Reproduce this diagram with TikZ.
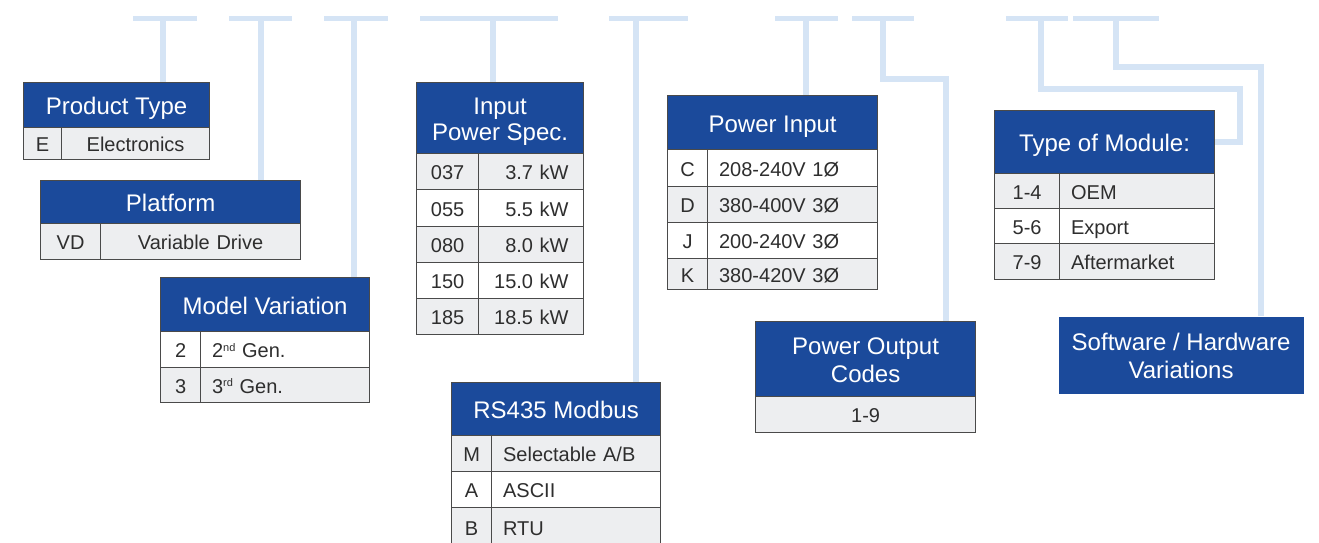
\documentclass[tikz,border=0pt]{standalone}
\usepackage{fontspec}
\setmainfont{Liberation Sans}
\definecolor{hdrblue}{HTML}{1B4A9B}
\definecolor{connblue}{HTML}{D5E4F5}
\definecolor{rowgray}{HTML}{EDEEF0}
\definecolor{bordergray}{HTML}{4A4A4A}
\definecolor{txtgray}{HTML}{2E2E2E}
\pgfdeclarelayer{front}\pgfsetlayers{main,front}
\newcommand{\thdr}[7]{%
  \pgfmathsetmacro\hdrW{#4-#2}\pgfmathsetmacro\hdrH{#5-#3}%
  \node[hdr, text height=#7, minimum width=\hdrW pt, minimum height=\hdrH pt] (#1) at (#2,#3) {#6};}
\newcommand{\trow}[9]{%
  \pgfmathsetmacro\rowWa{#3-#2}%
  \pgfmathsetmacro\rowWb{#4-#3-2*\cellpad}%
  \pgfmathsetmacro\rowH{#6-#5}%
  \node[cellA, fill=#7, minimum width=\rowWa pt, minimum height=\rowH pt] (#1a) at (#2,#5) {#8};
  \node[cellB, fill=#7, text width=\rowWb pt, inner xsep=\cellpad pt, minimum height=\rowH pt] (#1b) at (#3,#5) {#9};}
\newcommand{\supx}[1]{\raisebox{6.5pt}{\fontsize{11}{11}\selectfont #1}}
\begin{document}
\begin{tikzpicture}[x=1pt,y=-1pt,
  bar/.style={fill=connblue, draw=none, minimum height=5.5pt, inner sep=0pt},
  conn/.style={draw=connblue, line width=6pt, line join=miter},
  hdr/.style={fill=hdrblue, draw=bordergray, line width=1.2pt, text=white,
    font=\fontsize{24}{28}\selectfont, align=center, inner sep=0pt, anchor=north west,
    text height=19.2pt, text depth=0pt},
  cellA/.style={draw=bordergray, line width=1.2pt, inner sep=0pt, text=txtgray,
    font=\fontsize{20}{24}\selectfont, text height=16pt, text depth=0pt, anchor=north west},
  cellB/.style={cellA, align=center}]
\useasboundingbox (0,0) rectangle (1319,542);
\fill[white] (0,0) rectangle (1319,542);
% top bars
\node[bar, minimum width=64pt] (b1) at (165,18.5) {};
\node[bar, minimum width=63pt] (b2) at (260.5,18.5) {};
\node[bar, minimum width=64pt] (b3) at (356,18.5) {};
\node[bar, minimum width=138pt] (b4) at (489,18.5) {};
\node[bar, minimum width=79pt] (b5) at (648.5,18.5) {};
\node[bar, minimum width=63pt] (b6) at (806,18.5) {};
\node[bar, minimum width=62pt] (b7) at (883,18.5) {};
\node[bar, minimum width=62pt] (b8) at (1037,18.5) {};
\node[bar, minimum width=86pt] (b9) at (1116,18.5) {};
\coordinate (s1) at (162.5,18.5);
\coordinate (s2) at (261,18.5);
\coordinate (s3) at (354,18.5);
\coordinate (s4) at (492.5,18.5);
\coordinate (s5) at (636,18.5);
\coordinate (s6) at (806,18.5);
\coordinate (s7) at (883,18.5);
\coordinate (s8) at (1040.5,18.5);
\coordinate (s9) at (1116,18.5);
\coordinate (e7) at (946,79);
\coordinate (e8) at (1240,89);
\coordinate (e9) at (1261,67);
\begin{pgfonlayer}{front}
% Product Type
\thdr{pt}{23}{82}{209}{127}{Product Type}{19.2pt}
\def\cellpad{0}
\trow{pt1}{23}{61}{209}{127}{159}{rowgray}{E}{Electronics}
% Platform
\thdr{pf}{40}{180}{300}{223}{Platform}{19.2pt}
\trow{pf1}{40}{100}{300}{223}{259}{rowgray}{VD}{Variable Drive}
% Model Variation
\tikzset{cellB/.style={cellA, align=left}}
\def\cellpad{11.5}
\thdr{mv}{160}{277}{369}{331}{Model Variation}{19.2pt}
\trow{mv1}{160}{200}{369}{331}{367}{white}{2}{2\supx{nd} Gen.}
\trow{mv2}{160}{200}{369}{367}{402}{rowgray}{3}{3\supx{rd} Gen.}
% RS435 Modbus
\thdr{rs}{451}{382}{660}{435}{RS435 Modbus}{19.2pt}
\trow{rs1}{451}{491}{660}{435}{471}{rowgray}{M}{Selectable A/B}
\trow{rs2}{451}{491}{660}{471}{507}{white}{A}{ASCII}
\trow{rs3}{451}{491}{660}{507}{546}{rowgray}{B}{RTU}
% Power Input
\thdr{pi}{667}{95}{877}{149}{Power Input}{19.2pt}
\trow{pi1}{667}{707}{877}{149}{186}{white}{C}{208-240V 1Ø}
\trow{pi2}{667}{707}{877}{186}{222}{rowgray}{D}{380-400V 3Ø}
\trow{pi3}{667}{707}{877}{222}{258}{white}{J}{200-240V 3Ø}
\trow{pi4}{667}{707}{877}{258}{289}{rowgray}{K}{380-420V 3Ø}
% Type of Module
\thdr{tm}{994}{110}{1214}{173}{Type of Module:}{19.2pt}
\trow{tm1}{994}{1059}{1214}{173}{208}{rowgray}{1-4}{OEM}
\trow{tm2}{994}{1059}{1214}{208}{243}{white}{5-6}{Export}
\trow{tm3}{994}{1059}{1214}{243}{279}{rowgray}{7-9}{Aftermarket}
% Input Power Spec
\tikzset{cellB/.style={cellA, align=right}}
\def\cellpad{15}
\thdr{ip}{416}{82}{583}{153}{Input\\[-2pt]Power Spec.}{45.2pt}
\trow{ip1}{416}{478}{583}{153}{189}{rowgray}{037}{3.7 kW}
\trow{ip2}{416}{478}{583}{189}{226}{white}{055}{5.5 kW}
\trow{ip3}{416}{478}{583}{226}{262}{rowgray}{080}{8.0 kW}
\trow{ip4}{416}{478}{583}{262}{298}{white}{150}{15.0 kW}
\trow{ip5}{416}{478}{583}{298}{334}{rowgray}{185}{18.5 kW}
% Power Output Codes
\thdr{po}{755}{321}{975}{396}{Power Output\\Codes}{47.2pt}
\node[cellA, fill=rowgray, minimum width=220pt, minimum height=36pt] (po1) at (755,396) {1-9};
% Software / Hardware
\node[hdr, draw=none, text height=47.7pt, minimum width=245pt, minimum height=77pt] (sw) at (1058,316) {Software / Hardware\\[0.5pt]Variations};
\end{pgfonlayer}
% connectors
\draw[conn] (s1) -- (s1 |- pt.north);
\draw[conn] (s2) -- (s2 |- pf.north);
\draw[conn] (s3) -- (s3 |- mv.north);
\draw[conn] (s4) -- (s4 |- ip.north);
\draw[conn] (s5) -- (s5 |- rs.north);
\draw[conn] (s6) -- (s6 |- pi.north);
\draw[conn] (s7) |- (e7) -- (e7 |- po.north);
\draw[conn] (s8) |- (e8) |- (tm.east);
\draw[conn] (s9) |- (e9) -- (e9 |- sw.north);
\end{tikzpicture}
\end{document}
